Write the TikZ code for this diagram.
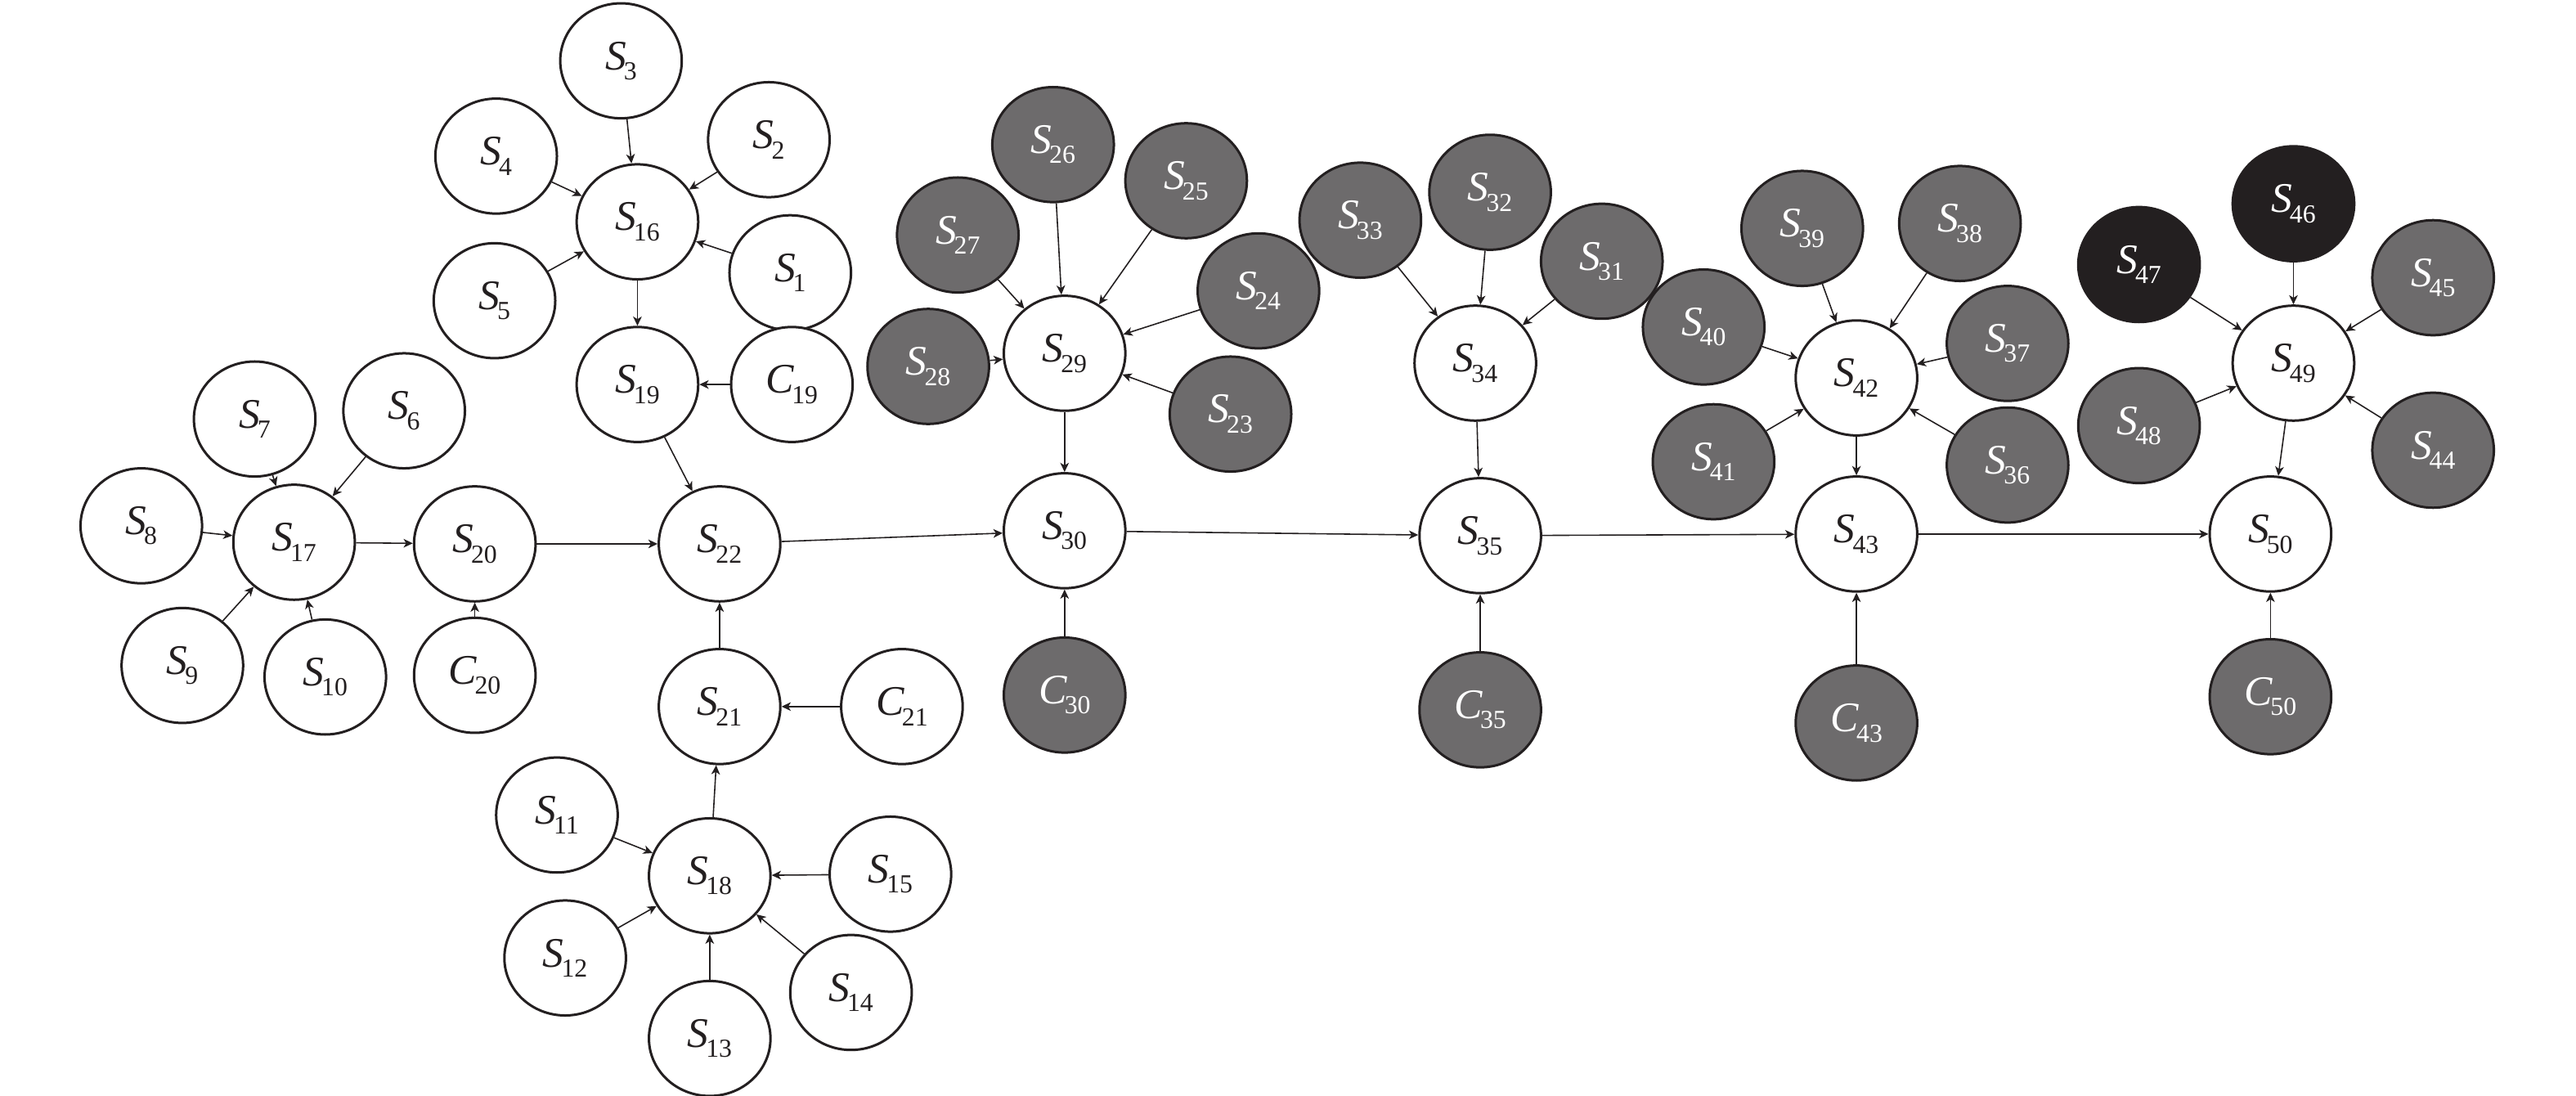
\documentclass[tikz,border=0pt]{standalone}
\usepackage{fontspec}
\setmainfont{Liberation Serif}
\usetikzlibrary{shapes.geometric,arrows.meta}
\definecolor{ink}{HTML}{231F20}
\definecolor{midgray}{HTML}{6D6B6C}
\newcommand{\nlab}[2]{\textit{#1}\kern-0.06em\raisebox{-0.24em}{\fontsize{9}{9}\selectfont #2}}
\tikzset{
  st/.style={ellipse,draw=ink,line width=0.85pt,minimum width=1.48cm,minimum height=1.40cm,inner sep=0pt,
    font=\fontsize{14.6}{16}\selectfont,text=ink,fill=white},
  gr/.style={st,fill=midgray,text=white},
  bk/.style={st,fill=ink,text=white},
  ar/.style={draw=ink,line width=0.45pt,-{Stealth[length=3.2pt,width=3pt,inset=0.9pt]}}
}
\begin{document}
\begin{tikzpicture}[x=0.02cm,y=-0.02cm]
\useasboundingbox (0,0) rectangle (1568,667);
% group 1
\node[st] (S3) at (378,37) {\nlab{S}{3}};
\node[st] (S4) at (302,95) {\nlab{S}{4}};
\node[st] (S2) at (468,85) {\nlab{S}{2}};
\node[st] (S16) at (388,135) {\nlab{S}{16}};
\node[st] (S1) at (481,166) {\nlab{S}{1}};
\node[st] (S5) at (301,183) {\nlab{S}{5}};
\node[st] (S19) at (388,234) {\nlab{S}{19}};
\node[st] (C19) at (482,234) {\nlab{C}{19}};
% group 2
\node[st] (S7) at (155,255) {\nlab{S}{7}};
\node[st] (S6) at (246,250) {\nlab{S}{6}};
\node[st] (S8) at (86,320) {\nlab{S}{8}};
\node[st] (S17) at (179,330) {\nlab{S}{17}};
\node[st] (S20) at (289,331) {\nlab{S}{20}};
\node[st] (S9) at (111,405) {\nlab{S}{9}};
\node[st] (S10) at (198,412) {\nlab{S}{10}};
\node[st] (C20) at (289,411) {\nlab{C}{20}};
% group 3
\node[st] (S22) at (438,331) {\nlab{S}{22}};
\node[st] (S21) at (438,430) {\nlab{S}{21}};
\node[st] (C21) at (549,430) {\nlab{C}{21}};
\node[st] (S11) at (339,496) {\nlab{S}{11}};
\node[st] (S18) at (432,533) {\nlab{S}{18}};
\node[st] (S15) at (542,532) {\nlab{S}{15}};
\node[st] (S12) at (344,583) {\nlab{S}{12}};
\node[st] (S13) at (432,632) {\nlab{S}{13}};
\node[st] (S14) at (518,604) {\nlab{S}{14}};
% group 4
\node[gr] (S26) at (641,88) {\nlab{S}{26}};
\node[gr] (S25) at (722,110) {\nlab{S}{25}};
\node[gr] (S27) at (583,143) {\nlab{S}{27}};
\node[gr] (S24) at (766,177) {\nlab{S}{24}};
\node[gr] (S28) at (565,223) {\nlab{S}{28}};
\node[st] (S29) at (648,215) {\nlab{S}{29}};
\node[gr] (S23) at (749,252) {\nlab{S}{23}};
\node[st] (S30) at (648,323) {\nlab{S}{30}};
\node[gr] (C30) at (648,423) {\nlab{C}{30}};
% group 5
\node[gr] (S33) at (828,134) {\nlab{S}{33}};
\node[gr] (S32) at (907,117) {\nlab{S}{32}};
\node[gr] (S31) at (975,159) {\nlab{S}{31}};
\node[st] (S34) at (898,221) {\nlab{S}{34}};
\node[st] (S35) at (901,326) {\nlab{S}{35}};
\node[gr] (C35) at (901,432) {\nlab{C}{35}};
% group 6
\node[gr] (S40) at (1037,199) {\nlab{S}{40}};
\node[gr] (S39) at (1097,139) {\nlab{S}{39}};
\node[gr] (S38) at (1193,136) {\nlab{S}{38}};
\node[gr] (S37) at (1222,209) {\nlab{S}{37}};
\node[st] (S42) at (1130,230) {\nlab{S}{42}};
\node[gr] (S41) at (1043,281) {\nlab{S}{41}};
\node[gr] (S36) at (1222,283) {\nlab{S}{36}};
\node[st] (S43) at (1130,325) {\nlab{S}{43}};
\node[gr] (C43) at (1130,440) {\nlab{C}{43}};
% group 7
\node[bk] (S46) at (1396,124) {\nlab{S}{46}};
\node[bk] (S47) at (1302,161) {\nlab{S}{47}};
\node[gr] (S45) at (1481,169) {\nlab{S}{45}};
\node[st] (S49) at (1396,221) {\nlab{S}{49}};
\node[gr] (S48) at (1302,259) {\nlab{S}{48}};
\node[gr] (S44) at (1481,274) {\nlab{S}{44}};
\node[st] (S50) at (1382,325) {\nlab{S}{50}};
\node[gr] (C50) at (1382,424) {\nlab{C}{50}};
% edges
\foreach \s in {S1,S2,S3,S4,S5} \draw[ar] (\s) -- (S16);
\draw[ar] (S16) -- (S19);
\draw[ar] (C19) -- (S19);
\draw[ar] (S19) -- (S22);
\foreach \s in {S6,S7,S8,S9,S10} \draw[ar] (\s) -- (S17);
\draw[ar] (S17) -- (S20);
\draw[ar] (C20) -- (S20);
\draw[ar] (S20) -- (S22);
\draw[ar] (S21) -- (S22);
\draw[ar] (C21) -- (S21);
\draw[ar] (S18) -- (S21);
\foreach \s in {S11,S12,S13,S14,S15} \draw[ar] (\s) -- (S18);
\draw[ar] (S22) -- (S30);
\foreach \s in {S23,S24,S25,S26,S27,S28} \draw[ar] (\s) -- (S29);
\draw[ar] (S29) -- (S30);
\draw[ar] (C30) -- (S30);
\draw[ar] (S30) -- (S35);
\foreach \s in {S31,S32,S33} \draw[ar] (\s) -- (S34);
\draw[ar] (S34) -- (S35);
\draw[ar] (C35) -- (S35);
\draw[ar] (S35) -- (S43);
\foreach \s in {S36,S37,S38,S39,S40,S41} \draw[ar] (\s) -- (S42);
\draw[ar] (S42) -- (S43);
\draw[ar] (C43) -- (S43);
\draw[ar] (S43) -- (S50);
\foreach \s in {S44,S45,S46,S47,S48} \draw[ar] (\s) -- (S49);
\draw[ar] (S49) -- (S50);
\draw[ar] (C50) -- (S50);
\end{tikzpicture}
\end{document}
